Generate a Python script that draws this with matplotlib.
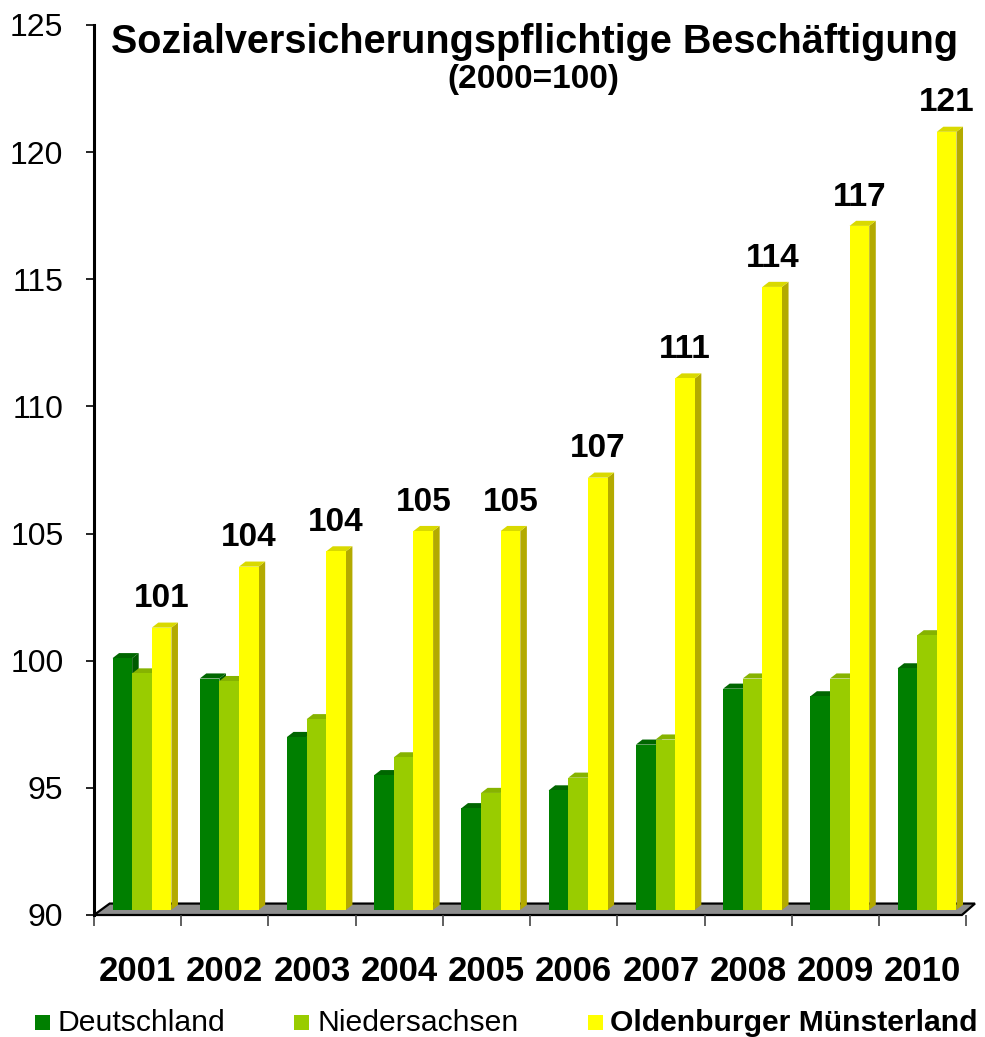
import matplotlib
matplotlib.use("Agg")
import matplotlib.pyplot as plt
from matplotlib.patches import Polygon, Rectangle
import numpy as np

plt.rcParams['font.family'] = ['Liberation Sans', 'DejaVu Sans']

years = ['2001', '2002', '2003', '2004', '2005', '2006', '2007', '2008', '2009', '2010']
deutschland = [100.1, 99.3, 97.0, 95.5, 94.2, 94.9, 96.7, 98.9, 98.6, 99.7]
niedersachsen = [99.5, 99.2, 97.7, 96.2, 94.8, 95.4, 96.9, 99.3, 99.3, 101.0]
oldenburg = [101.3, 103.7, 104.3, 105.1, 105.1, 107.2, 111.1, 114.7, 117.1, 120.8]
oldenburg_labels = ['101', '104', '104', '105', '105', '107', '111', '114', '117', '121']
series_names = ['Deutschland', 'Niedersachsen', 'Oldenburger Münsterland']

front_colors = ['#007F00', '#99CC00', '#FFFF00']
side_colors = ['#005A00', '#6E9400', '#B3AA00']
top_colors = ['#006600', '#86B300', '#D9D900']

W, H = 985, 1037
fig = plt.figure(figsize=(W / 100, H / 100), dpi=100)
ax = fig.add_axes([94 / W, 1 - 915 / H, 881 / W, 890 / H])
ax.set_xlim(-0.5, 9.6)
ax.set_ylim(90, 125)

bw = 0.225
shift = 0.05
dx = 0.075
dy = 0.2
x = np.arange(len(years))

# floor
floor = Polygon([(-0.5, 90), (9.45, 90), (9.6, 90.45), (-0.32, 90.45)], closed=True,
                facecolor='#8E8E8E', edgecolor='black', linewidth=1.6, clip_on=False, zorder=1)
ax.add_patch(floor)

all_series = [deutschland, niedersachsen, oldenburg]
for s, vals in enumerate(all_series):
    xs = x + shift + (s - 1) * bw
    ax.bar(xs, np.array(vals) - 90.2, bottom=90.2, width=bw, color=front_colors[s],
           edgecolor='none', zorder=3 + s * 0.01, label=series_names[s])
    for xi, v in zip(xs, vals):
        r = xi + bw / 2
        l = xi - bw / 2
        side = Polygon([(r, 90.2), (r + dx, 90.2 + dy), (r + dx, v + dy), (r, v)], closed=True,
                       facecolor=side_colors[s], edgecolor='none', zorder=2.9 + s * 0.01, clip_on=False)
        top = Polygon([(l, v), (l + dx, v + dy), (r + dx, v + dy), (r, v)], closed=True,
                      facecolor=top_colors[s], edgecolor='none', zorder=2.9 + s * 0.01, clip_on=False)
        ax.add_patch(side)
        ax.add_patch(top)

for xi, v, lab in zip(x + shift + bw, oldenburg, oldenburg_labels):
    ax.text(xi, v + 0.8, lab, ha='center', va='baseline', fontsize=24, fontweight='bold', zorder=5)

# axes styling
for sp in ['top', 'right', 'bottom']:
    ax.spines[sp].set_visible(False)
ax.spines['left'].set_linewidth(2.2)
ax.set_yticks(np.arange(90, 126, 5))
ax.tick_params(axis='y', direction='out', length=6, width=1.2, labelsize=23, pad=16)
ax.set_xticks(x)
ax.set_xticklabels(years, fontsize=25, fontweight='bold')
ax.tick_params(axis='x', which='major', length=0, pad=29)
ax.set_xticks(np.arange(-0.5, 10, 1), minor=True)
ax.tick_params(axis='x', which='minor', length=8, width=1.2, color='#444444', direction='out', pad=0)

# title
fig.text(534.5 / W, 1 - 53 / H, 'Sozialversicherungspflichtige Beschäftigung', ha='center', va='baseline',
         fontsize=28.5, fontweight='bold')
fig.text(533 / W, 1 - 88 / H, '(2000=100)', ha='center', va='baseline', fontsize=24, fontweight='bold')

# legend
legend_items = [(35, 57, 'normal'), (294, 318, 'normal'), (588, 610, 'bold')]
for (sx, tx, wt), name, c in zip(legend_items, series_names, front_colors):
    fig.patches.append(Rectangle((sx / W, 1 - 1030 / H), 15 / W, 15 / H, transform=fig.transFigure,
                                 facecolor=c, edgecolor='none'))
    fig.text(tx / W, 1 - 1023 / H, name, ha='left', va='center', fontsize=21.7, fontweight=wt)

fig.savefig('out.png', dpi=100)
